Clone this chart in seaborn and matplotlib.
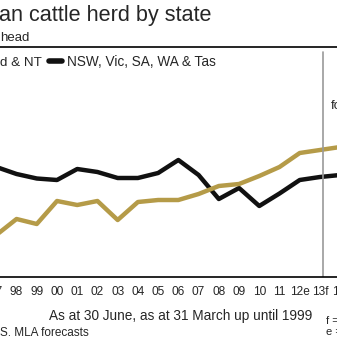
import numpy as np
import pandas as pd
import matplotlib
matplotlib.use("Agg")
import matplotlib.pyplot as plt
import seaborn as sns
from matplotlib.lines import Line2D

# ---- data (million head) ----
years = ["97", "98", "99", "00", "01", "02", "03", "04", "05", "06",
         "07", "08", "09", "10", "11", "12e", "13f", "14f"]
qld_nt = [11.96, 12.60, 12.40, 13.32, 13.16, 13.32, 12.56, 13.28, 13.36, 13.36,
          13.60, 13.92, 14.00, 14.32, 14.68, 15.24, 15.36, 15.48]
other_states = [14.68, 14.40, 14.22, 14.16, 14.60, 14.48, 14.24, 14.24, 14.44, 14.96,
                14.36, 13.40, 13.84, 13.12, 13.62, 14.16, 14.28, 14.36]
series_names = ["Qld & NT", "NSW, Vic, SA, WA & Tas"]
series_colors = ["#B59B48", "#111111"]

sns.set_style("white")
plt.rcParams['font.family'] = ['Liberation Sans', 'DejaVu Sans']

W = H = 337
fig = plt.figure(figsize=(3.37, 3.37), dpi=100)


def fx(px):
    return px / W


def fy(py):
    return 1 - py / H


ax = fig.add_axes([fx(-13.8), fy(277), 364.1 / W, 230 / H])

n = len(years)
df = pd.DataFrame({
    "idx": list(range(n)) * 2,
    "value": qld_nt + other_states,
    "series": [series_names[0]] * n + [series_names[1]] * n,
})
sns.lineplot(data=df, x="idx", y="value", hue="series",
             hue_order=series_names[::-1],
             palette=dict(zip(series_names, series_colors)),
             linewidth=3.2, ax=ax, legend=False, sort=False)
for ln in ax.lines:
    ln.set_solid_joinstyle('round')

ax.set_xlim(-0.5, n - 0.5)
ax.set_ylim(10.28, 19.48)
ax.set_xticks(range(n))
ax.set_xticklabels(years, fontsize=8.6)
ax.tick_params(axis='x', length=0, pad=6.5)
ax.set_yticks([])
ax.set_xlabel("")
ax.set_ylabel("")
for s in ['left', 'right']:
    ax.spines[s].set_visible(False)
for s in ['top', 'bottom']:
    ax.spines[s].set_color('black')
    ax.spines[s].set_linewidth(1.2)

ax.axvline(16.15, ymin=0, ymax=(277 - 52) / 230, color='#9a9a9a', lw=1.2)

# legend
handle = Line2D([0], [0], color=series_colors[1], lw=4, solid_capstyle='round')
ax.legend(handles=[handle], labels=[series_names[1]], loc='center left',
          bbox_to_anchor=(fx(49), fy(62)), bbox_transform=fig.transFigure,
          frameon=False, fontsize=9.8, handlelength=0.95, handletextpad=0.4,
          borderpad=0, borderaxespad=0)

# texts
fig.text(fx(-1), fy(21), "an cattle herd by state", fontsize=15.6, va='baseline', ha='left')
fig.text(fx(0), fy(41), "head", fontsize=9.5, va='baseline', ha='left')
fig.text(fx(0.5), fy(66), "d & NT", fontsize=9.6, va='baseline', ha='left')
fig.text(fx(331), fy(109), "fo", fontsize=9.5, va='baseline', ha='left')
fig.text(fx(312), fy(320), "As at 30 June, as at 31 March up until 1999",
         fontsize=9.8, va='baseline', ha='right')
fig.text(fx(0), fy(336), "S. MLA forecasts", fontsize=8.5, va='baseline', ha='left')
fig.text(fx(326), fy(324), "f =", fontsize=8, va='baseline', ha='left')
fig.text(fx(326), fy(335), "e =", fontsize=8, va='baseline', ha='left')

fig.savefig("out.png", dpi=100)
